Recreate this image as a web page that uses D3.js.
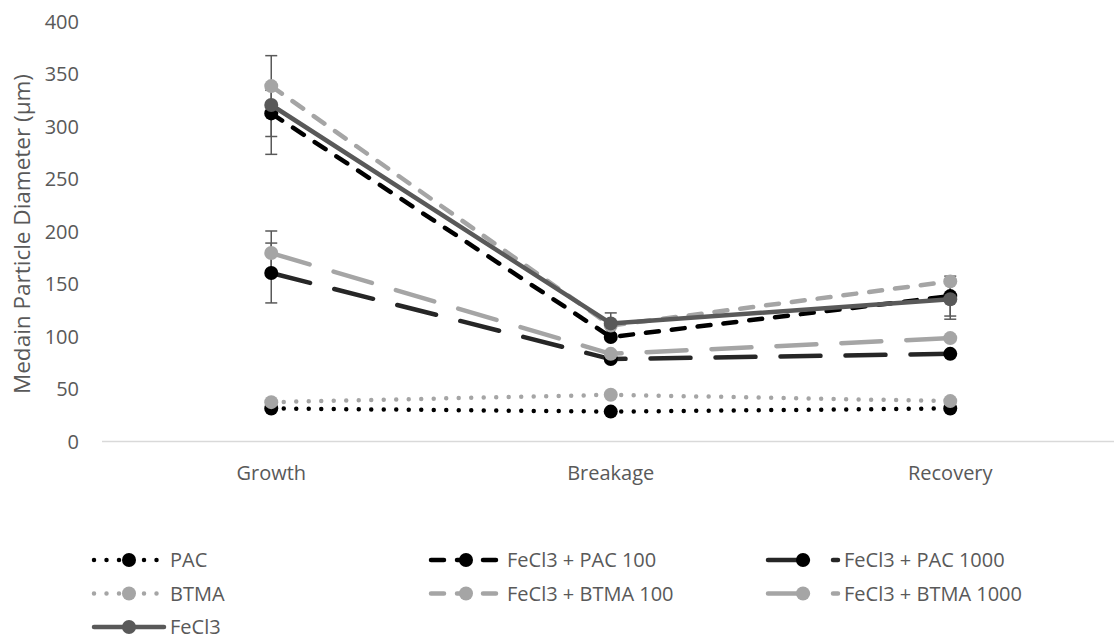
<!DOCTYPE html>
<html>
<head>
<meta charset="utf-8">
<script src="https://cdn.jsdelivr.net/npm/d3@7"></script>
<style>
  html, body { margin: 0; padding: 0; background: #ffffff; }
  text { font-family: "Open Sans", sans-serif; fill: #595959; }
</style>
</head>
<body>
<svg id="chart" width="1114" height="640"></svg>
<script>
// ---- data ----
const categories = ["Growth", "Breakage", "Recovery"];
const yTicks = [0, 50, 100, 150, 200, 250, 300, 350, 400];
const seriesNames = ["PAC", "FeCl3 + PAC 100", "FeCl3 + PAC 1000", "BTMA", "FeCl3 + BTMA 100", "FeCl3 + BTMA 1000", "FeCl3"];
const PAC = [31, 28, 31];
const PAC100 = [312, 99, 138];
const PAC1000 = [160, 78, 83];
const BTMA = [37, 44, 38];
const BTMA100 = [338, 110, 152];
const BTMA1000 = [179, 83, 98];
const FeCl3 = [320, 112, 135];
const errPAC = [0, 0, 0];
const errPAC100 = [22, 0, 19];
const errPAC1000 = [28.5, 0, 0];
const errBTMA = [0, 0, 0];
const errBTMA100 = [0, 0, 0];
const errBTMA1000 = [21, 0, 0];
const errFeCl3 = [47, 10, 19];
const yTitle = "Medain Particle Diameter (μm)";

// ---- styles ----
const styles = [
  { line: "#000000", marker: "#000000", dash: "0 12.5" },
  { line: "#000000", marker: "#000000", dash: "13 13" },
  { line: "#262626", marker: "#000000", dash: "40 25" },
  { line: "#a5a5a5", marker: "#a5a5a5", dash: "0 12.5" },
  { line: "#a5a5a5", marker: "#a5a5a5", dash: "13 13" },
  { line: "#a5a5a5", marker: "#a5a5a5", dash: "40 25" },
  { line: "#595959", marker: "#595959", dash: null }
];
const values = [PAC, PAC100, PAC1000, BTMA, BTMA100, BTMA1000, FeCl3];
const errors = [errPAC, errPAC100, errPAC1000, errBTMA, errBTMA100, errBTMA1000, errFeCl3];
const series = seriesNames.map((n, i) => ({ name: n, values: values[i], err: errors[i], style: styles[i] }));

const svg = d3.select("#chart");
const plotLeft = 101.5, plotRight = 1120, plotTop = 21, plotBottom = 441;

const x = d3.scaleBand().domain(categories).range([plotLeft, plotRight]);
const y = d3.scaleLinear().domain([0, 400]).range([plotBottom, plotTop]);
const cx = c => x(c) + x.bandwidth() / 2;

// y axis labels
const yAxis = d3.axisLeft(y).tickValues(yTicks).tickSize(0).tickPadding(0);
const gy = svg.append("g").attr("transform", "translate(79,0)").call(yAxis);
gy.select(".domain").remove();
gy.selectAll("text").attr("font-size", 20).style("font-family", "Open Sans, sans-serif").attr("fill", "#595959").attr("dy", "0.35em");

// x axis
const xAxis = d3.axisBottom(x).tickSize(0).tickPadding(0);
const gx = svg.append("g").attr("transform", `translate(0,${plotBottom})`).call(xAxis);
gx.select(".domain").attr("stroke", "#d9d9d9").attr("stroke-width", 1.3);
gx.selectAll("text").attr("font-size", 20).style("font-family", "Open Sans, sans-serif").attr("fill", "#595959").attr("y", 32).attr("dy", "0.35em");

// y title
svg.append("text")
  .attr("transform", `translate(22,${(plotTop + plotBottom) / 2 + 3}) rotate(-90)`)
  .attr("text-anchor", "middle").attr("dy", "0.35em")
  .attr("font-size", 22.5)
  .text(yTitle);

// error bars
const eg = svg.append("g");
series.forEach(s => {
  s.values.forEach((v, i) => {
    const e = s.err[i];
    if (!e) return;
    const px = cx(categories[i]);
    eg.append("line").attr("x1", px).attr("x2", px).attr("y1", y(v - e)).attr("y2", y(v + e))
      .attr("stroke", "#595959").attr("stroke-width", 1.5);
    [v - e, v + e].forEach(t => {
      eg.append("line").attr("x1", px - 6).attr("x2", px + 6).attr("y1", y(t)).attr("y2", y(t))
        .attr("stroke", "#595959").attr("stroke-width", 1.5);
    });
  });
});

// lines + markers
const line = d3.line().x((d, i) => cx(categories[i])).y(d => y(d));
series.forEach(s => {
  const g = svg.append("g");
  g.append("path").datum(s.values).attr("d", line)
    .attr("fill", "none").attr("stroke", s.style.line).attr("stroke-width", 4.5)
    .attr("stroke-linecap", "round").attr("stroke-linejoin", "round")
    .attr("stroke-dasharray", s.style.dash);
  g.selectAll("circle").data(s.values).join("circle")
    .attr("cx", (d, i) => cx(categories[i])).attr("cy", d => y(d)).attr("r", 7)
    .attr("fill", s.style.marker);
});

// legend
const colX = d3.scaleOrdinal().domain([0, 1, 2]).range([94, 431, 768]);
const rowY = d3.scaleOrdinal().domain([0, 1, 2]).range([560, 593.5, 627]);
series.forEach((s, i) => {
  const gx0 = colX(i % 3), gy0 = rowY(Math.floor(i / 3));
  const g = svg.append("g").attr("transform", `translate(${gx0},${gy0})`);
  g.append("line").attr("x1", 0).attr("x2", 70).attr("y1", 0).attr("y2", 0)
    .attr("stroke", s.style.line).attr("stroke-width", 4.5).attr("stroke-linecap", "round")
    .attr("stroke-dasharray", s.style.dash);
  g.append("circle").attr("cx", 35).attr("cy", 0).attr("r", 7).attr("fill", s.style.marker);
  g.append("text").attr("x", 76).attr("y", 0).attr("dy", "0.35em").attr("font-size", 20).text(s.name);
});
</script>
</body>
</html>
